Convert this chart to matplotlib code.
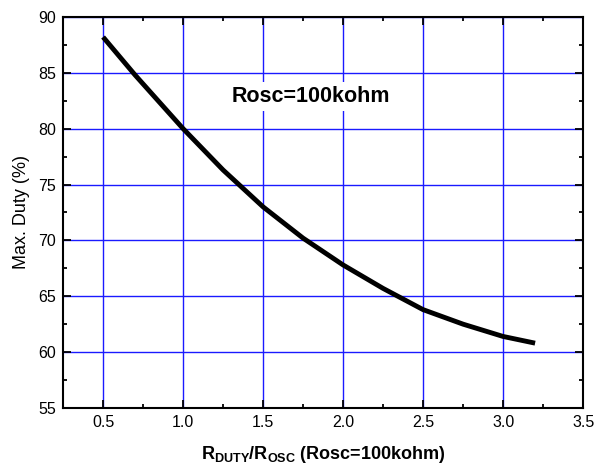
import matplotlib
matplotlib.use("Agg")
import matplotlib.pyplot as plt
from matplotlib.ticker import MultipleLocator

plt.rcParams['font.family'] = ['Liberation Sans', 'DejaVu Sans']
plt.rcParams['mathtext.fontset'] = 'custom'
plt.rcParams['mathtext.rm'] = 'Liberation Sans'
plt.rcParams['mathtext.bf'] = 'Liberation Sans:bold'

# ratio R_DUTY / R_OSC and max duty (%)
ratio = [0.5, 0.7, 1.0, 1.25, 1.5, 1.75, 2.0, 2.25, 2.5, 2.75, 3.0, 3.2]
max_duty = [88.2, 84.8, 80.0, 76.3, 73.0, 70.2, 67.8, 65.7, 63.8, 62.5, 61.4, 60.8]

fig = plt.figure(figsize=(5.95, 4.7), dpi=100)
ax = fig.add_axes([0.106, 0.132, 0.874, 0.832])

ax.plot(ratio, max_duty, color='black', linewidth=3.5, zorder=3,
        solid_joinstyle='round', solid_capstyle='butt')

ax.set_xlim(0.25, 3.5)
ax.set_ylim(55, 90)
ax.xaxis.set_minor_locator(MultipleLocator(0.25))
ax.yaxis.set_major_locator(MultipleLocator(5))
ax.yaxis.set_minor_locator(MultipleLocator(2.5))
ax.set_xticks([0.5, 1.0, 1.5, 2.0, 2.5, 3.0, 3.5])
ax.set_xticklabels(['0.5', '1.0', '1.5', '2.0', '2.5', '3.0', '3.5'])

ax.grid(True, which='major', color='#1a1aff', linewidth=1.0)
ax.set_axisbelow(True)

ax.tick_params(which='both', direction='in', top=True, right=True, labelsize=11.5, width=1.3)
ax.tick_params(which='major', length=6, pad=5)
ax.tick_params(which='minor', length=3)
for s in ax.spines.values():
    s.set_linewidth(1.5)

ax.set_ylabel('Max. Duty (%)', fontsize=13, labelpad=6)
ax.set_xlabel(r'$\mathbf{R_{DUTY}/R_{OSC}}$ (Rosc=100kohm)', fontsize=13, fontweight='bold', labelpad=10)

ax.text(1.8, 82.9, 'Rosc=100kohm', fontsize=15.5, fontweight='bold', ha='center', va='center',
        bbox=dict(facecolor='white', edgecolor='none', pad=3), zorder=4)

fig.savefig('out.png', dpi=100)
